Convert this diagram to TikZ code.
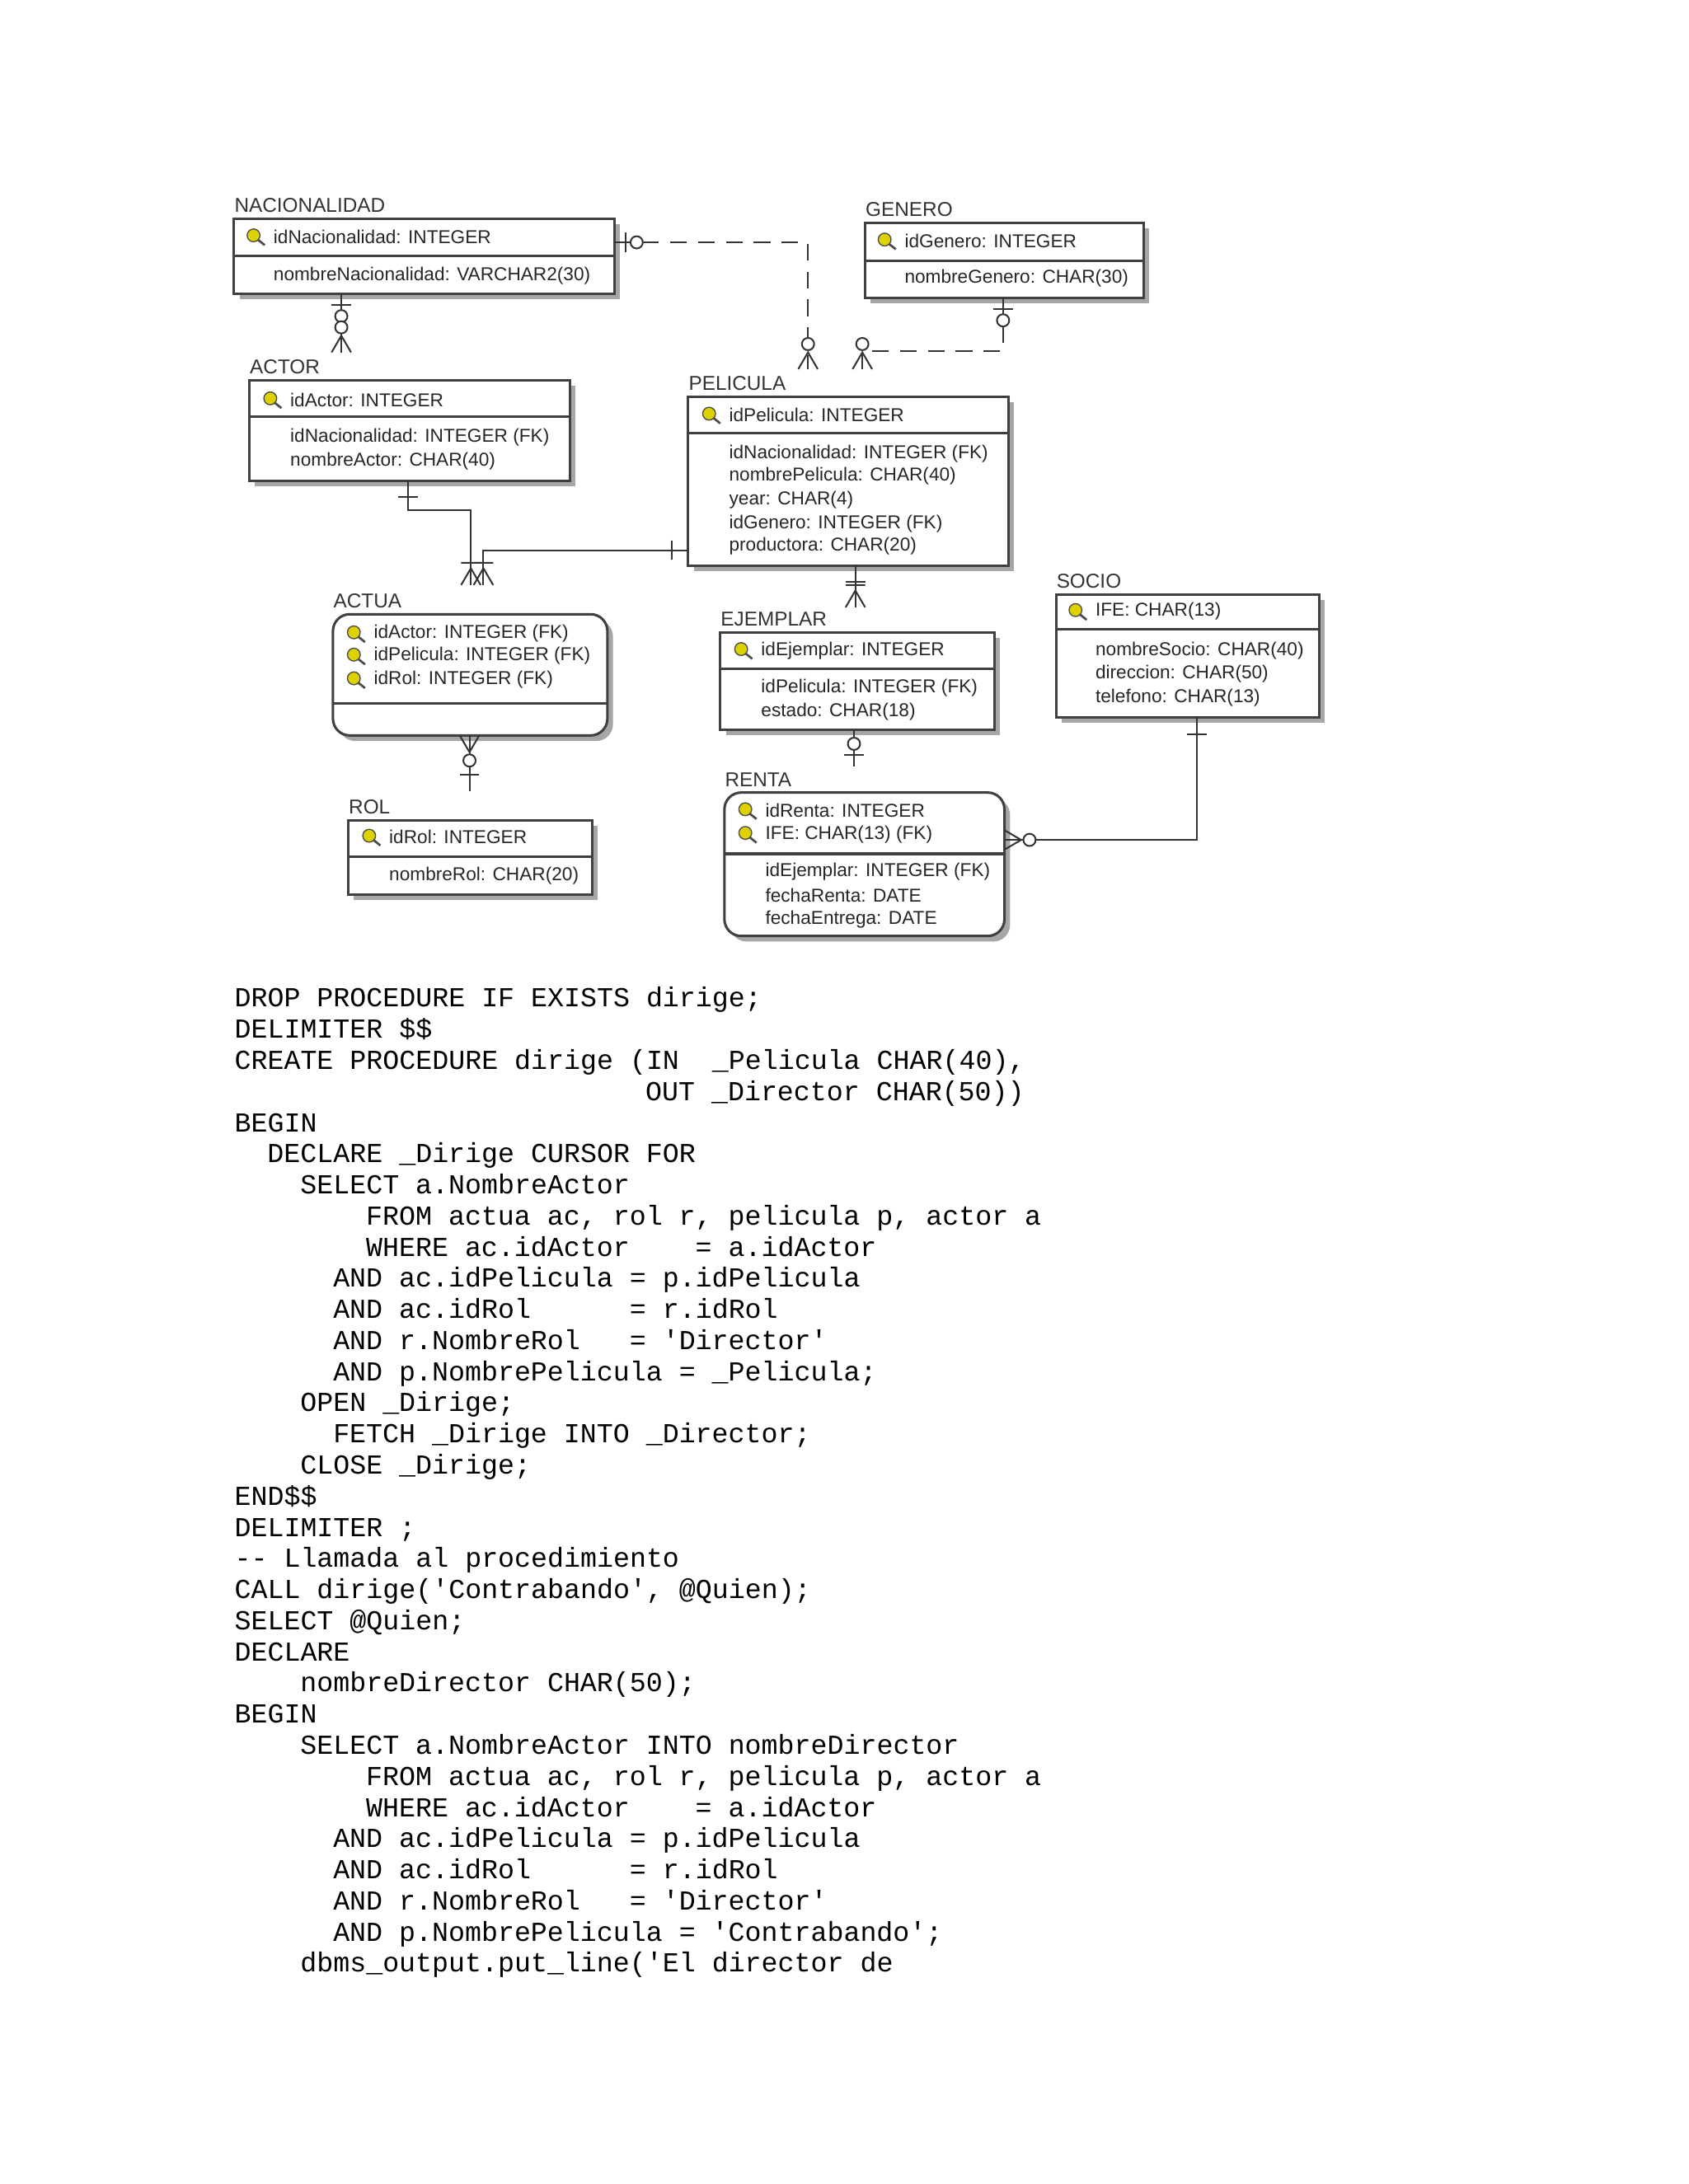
\documentclass[tikz,border=0pt]{standalone}
\usepackage{fontspec}
\setmainfont{Liberation Sans}
\setmonofont{Liberation Mono}
\begin{document}
\begin{tikzpicture}[x=0.5pt,y=-0.5pt,
  ert/.style={anchor=west,inner sep=0pt,font=\fontsize{6.7}{8}\selectfont,text=black!85},
  ttl/.style={anchor=south west,inner sep=0pt,font=\fontsize{7.2}{8}\selectfont,text=black!80},
  code/.style={anchor=base west,inner sep=0pt,font=\ttfamily\fontsize{9.85}{11}\selectfont},
  box/.style={draw=black!75,line width=0.9pt,fill=white},
  shd/.style={fill=black!35},
  conn/.style={draw=black!80,line width=0.6pt},
  dconn/.style={conn,dash pattern=on 6pt off 4pt},
  crowbar/.pic={\draw[black!80,line width=0.6pt] (0,3.5pt)--(-6pt,0)--(0,-3.5pt) (-8pt,3.5pt)--(-8pt,-3.5pt);},
  crowO/.pic={\draw[black!80,line width=0.6pt] (0,3.5pt)--(-6pt,0)--(0,-3.5pt); \draw[black!80,line width=0.6pt,fill=white] (-9pt,0) circle (2.2pt);},
  barO/.pic={\draw[black!80,line width=0.6pt] (-4pt,3.5pt)--(-4pt,-3.5pt); \draw[black!80,line width=0.6pt,fill=white] (-8pt,0) circle (2.2pt);},
  onebar/.pic={\draw[black!80,line width=0.6pt] (-6pt,3.5pt)--(-6pt,-3.5pt);}
]
\useasboundingbox[fill=white] (0,0) rectangle (1212,1568);
\newcommand\ent[7]{% name x1 y1 x2 y2 ydiv rounded
  \fill[shd,rounded corners=#7] (#2+4,#3+4) rectangle (#4+4,#5+4);
  \draw[box,rounded corners=#7] (#2,#3) rectangle (#4,#5);
  \draw[black!75,line width=0.9pt] (#2,#6)--(#4,#6);
  \coordinate (#1) at (#2,#3);}
\newcommand\keyic[2]{%
  \draw[black!70,fill=yellow!70!olive,line width=0.4pt] (#1,#2) circle (2.3pt);
  \draw[black!70,line width=0.8pt] (#1+3,#2+3)--(#1+8,#2+7);}
% entities
\ent{nac}{168}{157}{441}{211}{184}{0pt}
\node[ttl] (tnac) at (168,153) {NACIONALIDAD};
\keyic{182}{169}\node[ert] (a1) at (196,170) {idNacionalidad: INTEGER};
\node[ert] (a2) at (196,198) {nombreNacionalidad: VARCHAR2(30)};

\ent{gen}{621}{160}{821}{214}{187}{0pt}
\node[ttl] (tgen) at (621,156) {GENERO};
\keyic{635}{172}\node[ert] (b1) at (649,173) {idGenero: INTEGER};
\node[ert] (b2) at (649,200) {nombreGenero: CHAR(30)};

\ent{act}{179}{273}{409}{345}{299}{0pt}
\node[ttl] (tact) at (179,269) {ACTOR};
\keyic{194}{286}\node[ert] (c1) at (208,287) {idActor: INTEGER};
\node[ert] (c2) at (208,314) {idNacionalidad: INTEGER (FK)};
\node[ert] (c3) at (208,331) {nombreActor: CHAR(40)};

\ent{pel}{494}{285}{724}{406}{311}{0pt}
\node[ttl] (tpel) at (494,281) {PELICULA};
\keyic{509}{297}\node[ert] (d1) at (523,298) {idPelicula: INTEGER};
\node[ert] (d2) at (523,326) {idNacionalidad: INTEGER (FK)};
\node[ert] (d3) at (523,342) {nombrePelicula: CHAR(40)};
\node[ert] (d4) at (523,359) {year: CHAR(4)};
\node[ert] (d5) at (523,376) {idGenero: INTEGER (FK)};
\node[ert] (d6) at (523,392) {productora: CHAR(20)};

\ent{acu}{239}{441}{436}{528}{505}{6pt}
\node[ttl] (tacu) at (239,437) {ACTUA};
\keyic{254}{454}\node[ert] (e1) at (268,455) {idActor: INTEGER (FK)};
\keyic{254}{470}\node[ert] (e2) at (268,471) {idPelicula: INTEGER (FK)};
\keyic{254}{487}\node[ert] (e3) at (268,488) {idRol: INTEGER (FK)};

\ent{eje}{517}{454}{714}{524}{480}{0pt}
\node[ttl] (teje) at (517,450) {EJEMPLAR};
\keyic{532}{466}\node[ert] (f1) at (546,467) {idEjemplar: INTEGER};
\node[ert] (f2) at (546,494) {idPelicula: INTEGER (FK)};
\node[ert] (f3) at (546,511) {estado: CHAR(18)};

\ent{soc}{758}{427}{947}{515}{452}{0pt}
\node[ttl] (tsoc) at (758,423) {SOCIO};
\keyic{772}{438}\node[ert] (g1) at (786,439) {IFE: CHAR(13)};
\node[ert] (g2) at (786,467) {nombreSocio: CHAR(40)};
\node[ert] (g3) at (786,484) {direccion: CHAR(50)};
\node[ert] (g4) at (786,501) {telefono: CHAR(13)};

\ent{rol}{250}{589}{425}{642}{615}{0pt}
\node[ttl] (trol) at (250,585) {ROL};
\keyic{265}{600}\node[ert] (h1) at (279,601) {idRol: INTEGER};
\node[ert] (h2) at (279,629) {nombreRol: CHAR(20)};

\ent{ren}{520}{569}{721}{672}{613}{6pt}
\node[ttl] (tren) at (520,565) {RENTA};
\keyic{535}{581}\node[ert] (i1) at (549,582) {idRenta: INTEGER};
\keyic{535}{598}\node[ert] (i2) at (549,599) {IFE: CHAR(13) (FK)};
\node[ert] (i3) at (549,626) {idEjemplar: INTEGER (FK)};
\node[ert] (i4) at (549,643) {fechaRenta: DATE};
\node[ert] (i5) at (549,660) {fechaEntrega: DATE};

% connector end points
\coordinate (p1a) at (245,211); \coordinate (p1b) at (245,253);
\coordinate (p2a) at (441,174); \coordinate (p2k) at (580,174); \coordinate (p2b) at (580,265);
\coordinate (p3a) at (720,214); \coordinate (p3k) at (720,252); \coordinate (p3j) at (619,252); \coordinate (p3b) at (619,265);
\coordinate (p4a) at (293,345); \coordinate (p4k) at (293,366); \coordinate (p4j) at (338,366); \coordinate (p4b) at (338,420);
\coordinate (p5a) at (494,395); \coordinate (p5k) at (347,395); \coordinate (p5b) at (347,420);
\coordinate (p6a) at (614,406); \coordinate (p6b) at (614,436);
\coordinate (p7a) at (337,528); \coordinate (p7b) at (337,568);
\coordinate (p8a) at (613,524); \coordinate (p8b) at (613,550);
\coordinate (p9a) at (859,515); \coordinate (p9k) at (859,603); \coordinate (p9b) at (721,603);

\draw[conn] (p1a)--(p1b);
\draw[dconn] (p2a)--(p2k)--(p2b);
\draw[dconn] (p3a)--(p3k)--(p3j)--(p3b);
\draw[conn] (p4a)--(p4k)--(p4j)--(p4b);
\draw[conn] (p5a)--(p5k)--(p5b);
\draw[conn] (p6a)--(p6b);
\draw[conn] (p7a)--(p7b);
\draw[conn] (p8a)--(p8b);
\draw[conn] (p9a)--(p9k)--(p9b);

\pic[rotate=90] at (p1a) {barO};
\pic[rotate=-90] at (p1b) {crowO};
\pic[rotate=180] at (p2a) {barO};
\pic[rotate=-90] at (p2b) {crowO};
\pic[rotate=90] at (p3a) {barO};
\pic[rotate=-90] at (p3b) {crowO};
\pic[rotate=90] at (p4a) {onebar};
\pic[rotate=-90] at (p4b) {crowbar};
\pic[rotate=0] at (p5a) {onebar};
\pic[rotate=-90] at (p5b) {crowbar};
\pic[rotate=90] at (p6a) {onebar};
\pic[rotate=-90] at (p6b) {crowbar};
\pic[rotate=90] at (p7a) {crowO};
\pic[rotate=-90] at (p7b) {onebar};
\pic[rotate=-90] at (p8b) {barO};
\pic[rotate=90] at (p9a) {onebar};
\pic[rotate=180] at (p9b) {crowO};

% code
\newcommand\cl[3]{\node[code] (l#1) at (168+#2*11.8,723+#1*22.35) {#3};}
\cl{0}{0}{DROP PROCEDURE IF EXISTS dirige;}
\cl{1}{0}{DELIMITER \$\$}
\cl{2}{0}{CREATE PROCEDURE dirige (IN~~\_Pelicula CHAR(40),}
\cl{3}{25}{OUT \_Director CHAR(50))}
\cl{4}{0}{BEGIN}
\cl{5}{2}{DECLARE \_Dirige CURSOR FOR}
\cl{6}{4}{SELECT a.NombreActor}
\cl{7}{8}{FROM actua ac, rol r, pelicula p, actor a}
\cl{8}{8}{WHERE ac.idActor~~~~= a.idActor}
\cl{9}{6}{AND ac.idPelicula = p.idPelicula}
\cl{10}{6}{AND ac.idRol~~~~~~= r.idRol}
\cl{11}{6}{AND r.NombreRol~~~= 'Director'}
\cl{12}{6}{AND p.NombrePelicula = \_Pelicula;}
\cl{13}{4}{OPEN \_Dirige;}
\cl{14}{6}{FETCH \_Dirige INTO \_Director;}
\cl{15}{4}{CLOSE \_Dirige;}
\cl{16}{0}{END\$\$}
\cl{17}{0}{DELIMITER ;}
\cl{18}{0}{-- Llamada al procedimiento}
\cl{19}{0}{CALL dirige('Contrabando', @Quien);}
\cl{20}{0}{SELECT @Quien;}
\cl{21}{0}{DECLARE}
\cl{22}{4}{nombreDirector CHAR(50);}
\cl{23}{0}{BEGIN}
\cl{24}{4}{SELECT a.NombreActor INTO nombreDirector}
\cl{25}{8}{FROM actua ac, rol r, pelicula p, actor a}
\cl{26}{8}{WHERE ac.idActor~~~~= a.idActor}
\cl{27}{6}{AND ac.idPelicula = p.idPelicula}
\cl{28}{6}{AND ac.idRol~~~~~~= r.idRol}
\cl{29}{6}{AND r.NombreRol~~~= 'Director'}
\cl{30}{6}{AND p.NombrePelicula = 'Contrabando';}
\cl{31}{4}{dbms\_output.put\_line('El director de}
\end{tikzpicture}
\end{document}
